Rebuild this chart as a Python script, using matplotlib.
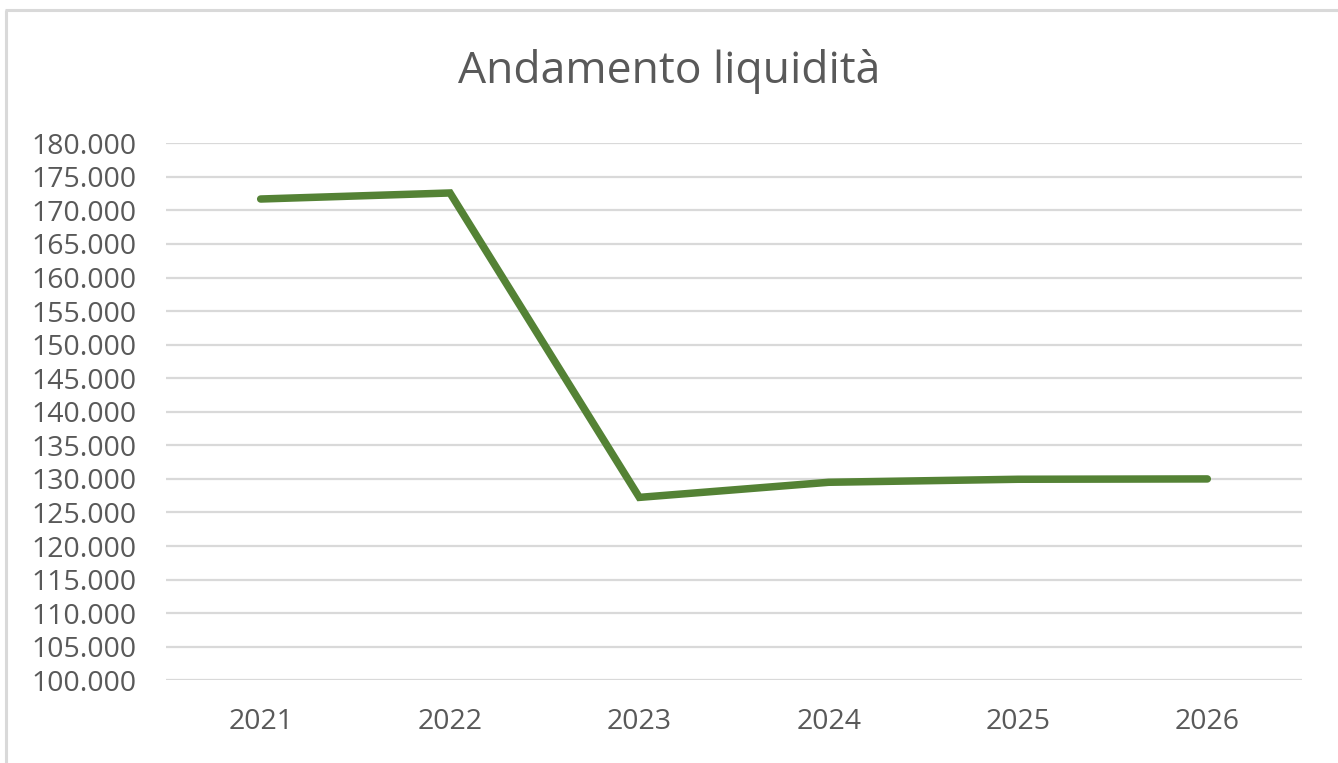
import matplotlib.pyplot as plt
from matplotlib.lines import Line2D
from matplotlib.ticker import FuncFormatter, MultipleLocator

years = ["2021", "2022", "2023", "2024", "2025", "2026"]
liquidity = [171700, 172600, 127250, 129500, 129950, 130000]

W, H = 1338, 763
fig = plt.figure(figsize=(W / 100, H / 100), dpi=100)
plt.rcParams['font.family'] = ['Open Sans', 'DejaVu Sans']

# chart frame (only left and top edges visible)
fig.add_artist(Line2D([6.5 / W, 6.5 / W], [0, 1 - 9.5 / H], color="#d9d9d9", lw=2.2,
                      transform=fig.transFigure, solid_capstyle="butt"))
fig.add_artist(Line2D([5.4 / W, 1], [1 - 9.5 / H, 1 - 9.5 / H], color="#d9d9d9", lw=2.2,
                      transform=fig.transFigure, solid_capstyle="butt"))

ax = fig.add_axes([166 / W, 1 - 680.3 / H, (1302 - 166) / W, (680.3 - 143.3) / H])
x = range(len(years))
ax.plot(x, liquidity, color="#548235", lw=5.4, solid_capstyle="round", solid_joinstyle="miter")

ax.set_xlim(-0.5, len(years) - 0.5)
ax.set_ylim(100000, 180000)
ax.yaxis.set_major_locator(MultipleLocator(5000))
ax.yaxis.set_major_formatter(FuncFormatter(lambda v, p: f"{int(v):,}".replace(",", ".")))
ax.set_xticks(list(x))
ax.set_xticklabels(years)
ax.grid(axis="y", color="#d9d9d9", lw=1.6)
ax.set_axisbelow(True)
for s in ax.spines.values():
    s.set_visible(False)
ax.tick_params(axis="both", length=0, labelsize=20.5, colors="#595959")
ax.tick_params(axis="y", pad=21)
ax.tick_params(axis="x", pad=20)

fig.text(0.5, 1 - 71 / H, "Andamento liquidità", ha="center", va="center",
         fontsize=32, color="#595959")

fig.savefig("out.png", dpi=100)
